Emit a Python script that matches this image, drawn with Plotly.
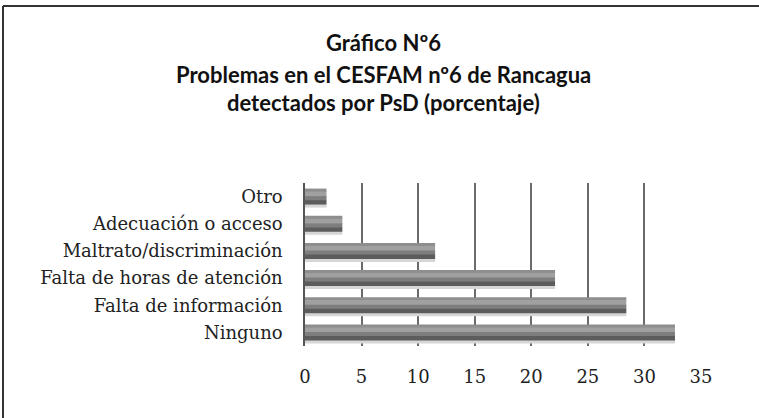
import plotly.graph_objects as go

categories = ["Ninguno", "Falta de información", "Falta de horas de atención",
              "Maltrato/discriminación", "Adecuación o acceso", "Otro"]
values = [32.7, 28.4, 22.1, 11.5, 3.3, 1.9]
x_ticks = [0, 5, 10, 15, 20, 25, 30, 35]
title_lines = ["Gráfico Nº6",
               "Problemas en el CESFAM nº6 de Rancagua",
               "detectados por PsD (porcentaje)"]

fig = go.Figure()

# stripes to mimic the shaded (cylindrical) bars: (px from top, px to, colour)
cat_px = 27.2
half = 0.295
stripes = [
    (15.0, 19.0, "#d6d6d6"),
    (0.0, 3.5, "#8e8e8e"),
    (3.0, 8.0, "#a0a0a0"),
    (7.5, 12.0, "#7e7e7e"),
    (11.5, 16.0, "#5c5c5c"),
]
for a, b, col in stripes:
    off = half - b / cat_px
    w = (b - a) / cat_px
    fig.add_trace(go.Bar(
        x=values, y=categories, orientation="h",
        width=[w] * len(values), offset=[off] * len(values),
        marker=dict(color=col, line=dict(width=0)),
        showlegend=False, hoverinfo="skip"))

fig.update_layout(
    barmode="overlay",
    width=759, height=418,
    margin=dict(l=305, r=58, t=183, b=72),
    paper_bgcolor="white", plot_bgcolor="white",
    font=dict(family="DejaVu Serif", size=18, color="#222222"),
    xaxis=dict(range=[0, 35], tickvals=x_ticks, ticktext=[str(v) for v in x_ticks],
               showgrid=True, gridcolor="#6a6a6a", gridwidth=1.5,
               zeroline=False, showline=False, ticks="", ticklabelstandoff=18,
               tickfont=dict(family="DejaVu Serif", size=18, color="#222222"),
               fixedrange=True),
    yaxis=dict(type="category", categoryorder="array", categoryarray=categories,
               range=[-0.5, 5.5], showgrid=False, zeroline=False,
               showline=True, linecolor="#555555", linewidth=1.5,
               ticks="", ticklabelstandoff=17,
               tickfont=dict(family="DejaVu Serif", size=18, color="#222222"),
               fixedrange=True),
    shapes=[
        dict(type="line", xref="paper", yref="paper", x0=-302/396, x1=(759-305)/396,
             y0=(418-72-6)/163, y1=(418-72-6)/163, line=dict(color="#333333", width=2)),
        dict(type="line", xref="paper", yref="paper", x0=-302/396, x1=-302/396,
             y0=-72/163, y1=(418-72-6)/163, line=dict(color="#333333", width=2)),
    ],
)

title_y = [42, 74, 102]
for txt, yp in zip(title_lines, title_y):
    fig.add_annotation(text="<b>" + txt + "</b>", xref="paper", yref="paper",
                       x=(383 - 305) / 396, y=(418 - 72 - yp) / 163,
                       showarrow=False, xanchor="center", yanchor="middle",
                       font=dict(family="Lato", size=22, color="#111111"))

fig.write_html("out.html", config={"displayModeBar": False},
               post_script="document.body.style.margin='0';")
